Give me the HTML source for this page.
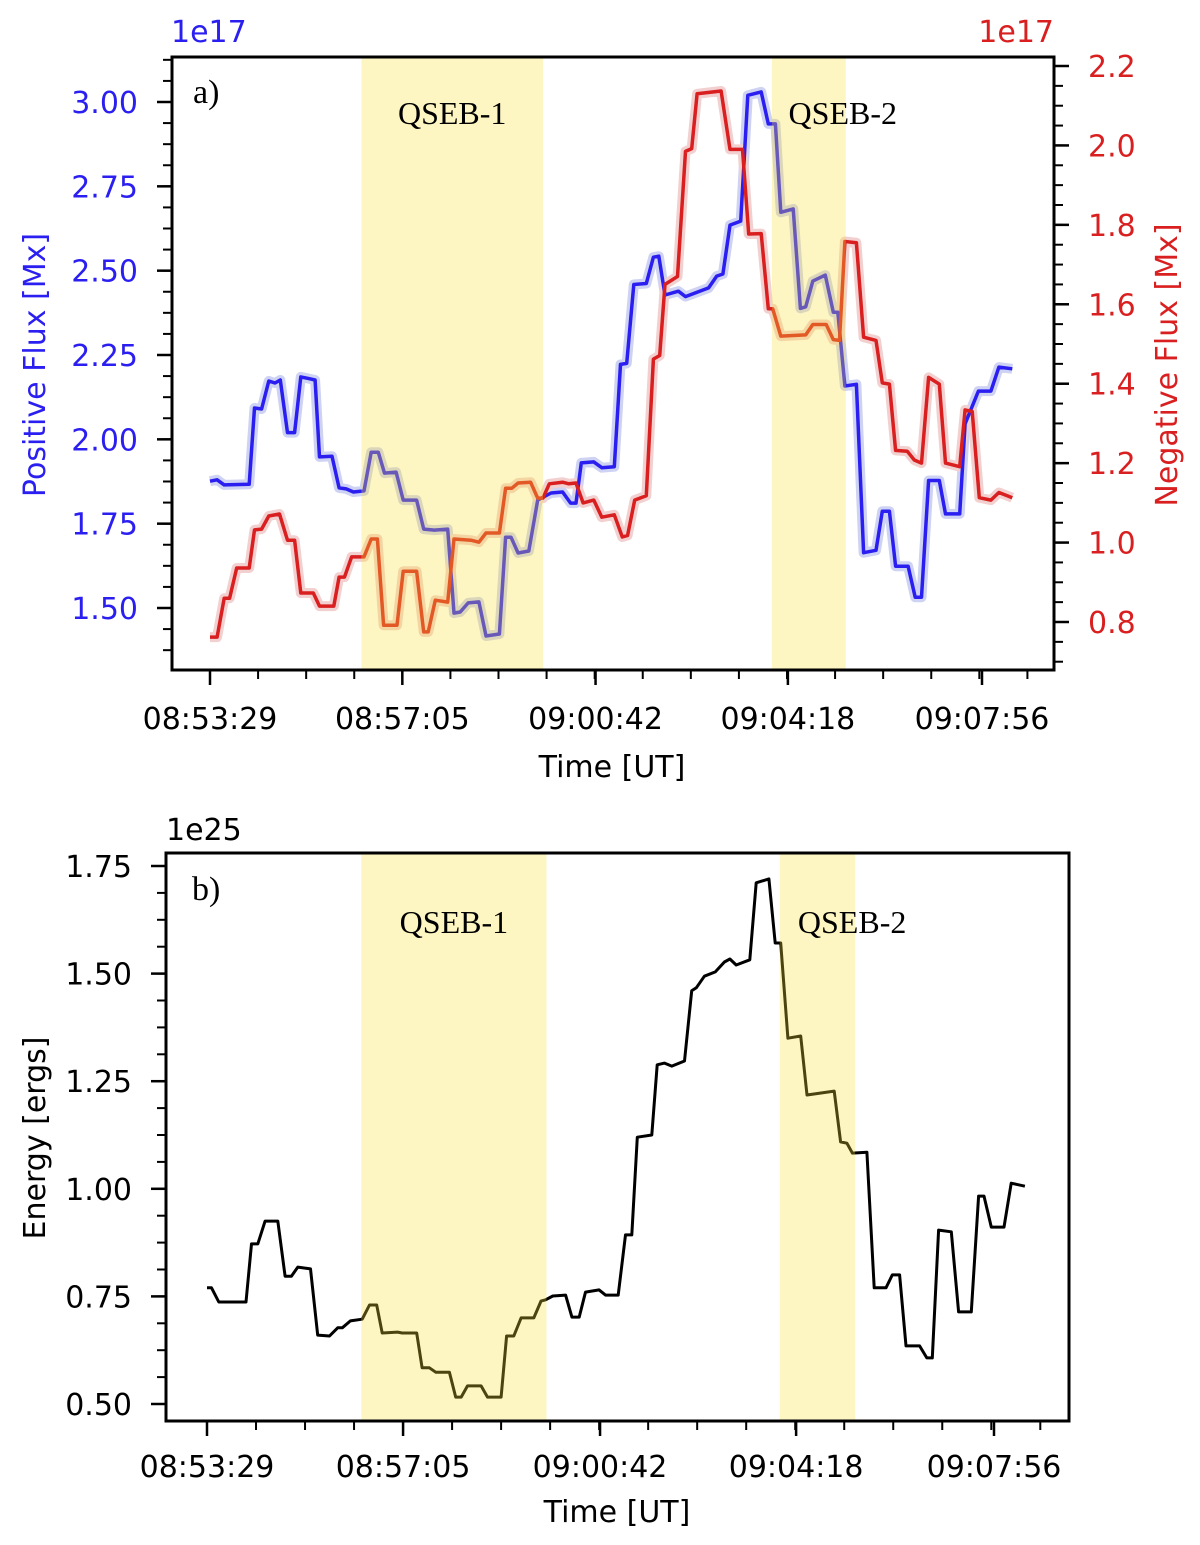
<!DOCTYPE html>
<html><head><meta charset="utf-8"><style>
html,body{margin:0;padding:0;background:#fff;}
svg{display:block;font-family:"DejaVu Sans","Liberation Sans",sans-serif;}
.serif{font-family:"Liberation Serif",serif;}
</style></head><body>
<svg id="fig" width="1200" height="1545" viewBox="0 0 1200 1545" xmlns="http://www.w3.org/2000/svg"></svg>
<script>
// ---- data (time in seconds from 08:53:29) ----
const posT=[0,8,16,44,50,58,66,73,79,87,95,102,111,118,123,137,145,153,161,173,181,189,196,209,217,232,240,252,267,274,281,290,302,310,325,332,338,346,358,368,383,396,405,411,417,431,440,454,461,468,476,490,498,504,511,526,534,560,569,576,584,596,604,619,627,635,641,655,663,669,677,691,700,705,713,726,734,748,755,763,770,784,792,799,807,819,826,842,848,863,877,886,901];
const posV=[1.876,1.88,1.865,1.867,2.093,2.09,2.173,2.167,2.176,2.02,2.02,2.185,2.18,2.176,1.948,1.95,1.856,1.853,1.844,1.847,1.962,1.962,1.90,1.903,1.82,1.82,1.734,1.731,1.734,1.485,1.488,1.515,1.518,1.417,1.423,1.71,1.71,1.663,1.669,1.82,1.841,1.844,1.811,1.811,1.93,1.933,1.916,1.919,2.222,2.225,2.459,2.462,2.54,2.543,2.428,2.439,2.423,2.449,2.484,2.49,2.635,2.647,3.02,3.03,2.935,2.935,2.673,2.683,2.388,2.393,2.469,2.487,2.377,2.377,2.158,2.163,1.664,1.671,1.787,1.787,1.624,1.624,1.532,1.532,1.878,1.878,1.779,1.779,2.046,2.143,2.143,2.214,2.209];
const negT=[0,8,16,22,30,44,50,58,66,78,87,95,102,116,123,139,145,151,159,173,181,188,195,210,217,232,240,245,253,267,274,293,302,310,325,332,339,346,360,368,374,381,396,403,411,419,431,440,454,463,469,477,490,498,505,511,525,534,541,547,574,584,598,605,619,627,632,641,669,677,692,700,707,713,726,734,748,755,763,770,783,791,799,807,819,826,842,848,856,864,877,886,901];
const negV=[0.762,0.762,0.860,0.860,0.936,0.936,1.032,1.034,1.067,1.072,1.006,1.006,0.873,0.873,0.840,0.840,0.913,0.913,0.964,0.964,1.009,1.009,0.792,0.792,0.928,0.928,0.775,0.775,0.855,0.850,1.009,1.006,1.001,1.024,1.024,1.137,1.137,1.150,1.152,1.112,1.112,1.148,1.152,1.148,1.150,1.100,1.107,1.064,1.070,1.014,1.018,1.107,1.118,1.462,1.471,1.650,1.670,1.985,1.992,2.130,2.137,1.990,1.990,1.777,1.778,1.589,1.589,1.520,1.523,1.549,1.549,1.511,1.509,1.758,1.755,1.517,1.509,1.402,1.399,1.232,1.230,1.208,1.200,1.416,1.399,1.200,1.191,1.334,1.330,1.113,1.107,1.126,1.113];
const enT=[0,5,13,23,43,49,56,64,78,86,93,100,114,122,135,144,149,158,171,179,187,193,210,215,231,237,245,252,267,274,280,287,302,309,324,330,338,346,360,368,373,381,395,402,410,417,432,439,453,461,468,474,490,496,504,512,526,534,539,548,560,570,576,583,598,605,619,626,632,640,654,661,691,698,705,711,727,735,748,755,763,770,785,793,799,806,820,828,842,850,856,864,878,886,901];
const enV=[0.770,0.770,0.737,0.737,0.737,0.872,0.872,0.925,0.925,0.797,0.797,0.818,0.814,0.660,0.658,0.677,0.677,0.693,0.697,0.730,0.730,0.665,0.667,0.665,0.665,0.584,0.584,0.574,0.574,0.516,0.516,0.542,0.542,0.516,0.516,0.658,0.658,0.700,0.700,0.739,0.742,0.751,0.753,0.702,0.702,0.760,0.765,0.753,0.753,0.893,0.893,1.120,1.125,1.288,1.292,1.285,1.297,1.460,1.467,1.494,1.504,1.527,1.534,1.520,1.532,1.711,1.720,1.571,1.571,1.350,1.355,1.218,1.227,1.109,1.106,1.083,1.085,0.770,0.770,0.800,0.800,0.635,0.635,0.607,0.607,0.904,0.900,0.714,0.714,0.983,0.983,0.911,0.911,1.013,1.006];
const tickSec=[0,216,433,649,867];
const tickLabels=["08:53:29","08:57:05","09:00:42","09:04:18","09:07:56"];
const posTicks=[1.50,1.75,2.00,2.25,2.50,2.75,3.00];
const negTicks=[0.8,1.0,1.2,1.4,1.6,1.8,2.0,2.2];
const enTicks=[0.50,0.75,1.00,1.25,1.50,1.75];
const spanStart=[170,631];
const spanEnd=[374,714];
const spanLabels=["QSEB-1","QSEB-2"];

const NS="http://www.w3.org/2000/svg";
const svg=document.getElementById('fig');
function mk(tag,attrs,parent,text){const e=document.createElementNS(NS,tag);for(const k in attrs)e.setAttribute(k,attrs[k]);if(text!==undefined)e.textContent=text;(parent||svg).appendChild(e);return e;}
function lin(d0,d1,r0,r1){return v=>r0+(v-d0)*(r1-r0)/(d1-d0);}
function pathD(T,V,sx,sy){return T.map((t,i)=>(i?'L':'M')+sx(t).toFixed(1)+','+sy(V[i]).toFixed(1)).join(' ');}

function xAxis(g,sx,yb,x0,x1,labelY,titleX,titleY){
  for(let i=0;i<tickSec.length;i++){
    const x=sx(tickSec[i]);
    const t=mk('line',{x1:x,x2:x,y1:yb,y2:yb+15,stroke:'#000','stroke-width':2.5},g);
    
    const l=mk('text',{x:x,y:labelY,'font-size':30,'text-anchor':'middle'},g,tickLabels[i]);
    
  }
  const step=(tickSec[1]-tickSec[0])/4;
  for(let s=tickSec[0]+step;sx(s)<x1;s+=step){
    const x=sx(s);
    const m=mk('line',{x1:x,x2:x,y1:yb,y2:yb+9,stroke:'#000','stroke-width':2},g);
    
  }
  const tt=mk('text',{x:titleX,y:titleY,'font-size':30,'text-anchor':'middle'},g,'Time [UT]');
  
}
function yAxis(g,sy,ticks,xAx,dir,fmt,color,top,bot,minorDiv){
  for(const v of ticks){
    const y=sy(v);
    const t=mk('line',{x1:xAx,x2:xAx+dir*15,y1:y,y2:y,stroke:'#000','stroke-width':2.5},g);
    
    const l=mk('text',{x:xAx+dir*34,y:y+11,'font-size':30,'text-anchor':dir<0?'end':'start',fill:color},g,v.toFixed(fmt));
    
  }
  const st=(ticks[1]-ticks[0])/minorDiv;
  for(let v=ticks[0]-5*st;v<ticks[ticks.length-1]+5*st;v+=st){
    const y=sy(v);if(y<top+2||y>bot-2)continue;
    const m=mk('line',{x1:xAx,x2:xAx+dir*9,y1:y,y2:y,stroke:'#000','stroke-width':2},g);
    
  }
}
function spans(g,sx,top,bot){
  for(let i=0;i<spanStart.length;i++){
    const r=mk('rect',{x:sx(spanStart[i]),y:top,width:sx(spanEnd[i])-sx(spanStart[i]),height:bot-top,fill:'#f8e137','fill-opacity':0.3},g);
    
  }
}
function spanLabelsDraw(g,sx,labY){
  for(let i=0;i<spanStart.length;i++){
    const cx=i===0?(sx(spanStart[i])+sx(spanEnd[i]))/2:sx(spanEnd[i])-3;
    const t=mk('text',{x:cx,y:labY,'font-size':32,'text-anchor':'middle',class:'serif'},g,spanLabels[i]);
    
  }
}

// ---- panel a ----
(function(){
  const L=172,R=1054,T=57,B=670;
  const sx=lin(0,867,210,982);
  const syP=lin(1.50,3.00,608,102);
  const syN=lin(0.8,2.2,622,66);
  const g=mk('g',{});
  
  const hb=mk('path',{d:pathD(posT,posV,sx,syP),fill:'none',stroke:'#ced2f3','stroke-width':10,'stroke-linejoin':'round'},g);
  
  const hr=mk('path',{d:pathD(negT,negV,sx,syN),fill:'none',stroke:'#f2d0d0','stroke-width':10,'stroke-linejoin':'round'},g);
  
  const pb=mk('path',{d:pathD(posT,posV,sx,syP),fill:'none',stroke:'#2a1ff0','stroke-width':3.5,'stroke-linejoin':'round'},g);
  
  const pr=mk('path',{d:pathD(negT,negV,sx,syN),fill:'none',stroke:'#d91f1f','stroke-width':3.5,'stroke-linejoin':'round'},g);
  
  spans(g,sx,T,B);
  spanLabelsDraw(g,sx,124);
  const fr=mk('rect',{x:L,y:T,width:R-L,height:B-T,fill:'none',stroke:'#000','stroke-width':3},g);
  
  xAxis(g,sx,B,L,R,729,612,777);
  yAxis(g,syP,posTicks,L,-1,2,'#2a1ff0',T,B,4);
  yAxis(g,syN,negTicks,R,1,1,'#d91f1f',T,B,4);
  const pl=mk('text',{x:0,y:0,'font-size':30,'text-anchor':'middle',fill:'#2a1ff0',transform:'translate(45,365) rotate(-90)'},g,'Positive Flux [Mx]');
  
  const nl=mk('text',{x:0,y:0,'font-size':30,'text-anchor':'middle',fill:'#d91f1f',transform:'translate(1177,365) rotate(-90)'},g,'Negative Flux [Mx]');
  
  const o1=mk('text',{x:171,y:42,'font-size':30,fill:'#2a1ff0'},g,'1e17');
  
  const o2=mk('text',{x:1054,y:42,'font-size':30,fill:'#d91f1f','text-anchor':'end'},g,'1e17');
  
  const pa=mk('text',{x:193,y:103,'font-size':34,class:'serif'},g,'a)');
  
})();

// ---- panel b ----
(function(){
  const L=166,R=1069,T=853,B=1421;
  const sx=lin(0,867,207,994);
  const sy=lin(0.50,1.75,1404,866);
  const g=mk('g',{});
  
  const p=mk('path',{d:pathD(enT,enV,sx,sy),fill:'none',stroke:'#000','stroke-width':3,'stroke-linejoin':'round'},g);
  
  spans(g,sx,T,B);
  spanLabelsDraw(g,sx,933);
  const fr=mk('rect',{x:L,y:T,width:R-L,height:B-T,fill:'none',stroke:'#000','stroke-width':3},g);
  
  xAxis(g,sx,B,L,R,1477,617,1522);
  yAxis(g,sy,enTicks,L,-1,2,'#000',T,B,4);
  const el=mk('text',{x:0,y:0,'font-size':30,'text-anchor':'middle',transform:'translate(45,1138) rotate(-90)'},g,'Energy [ergs]');
  
  const o=mk('text',{x:166,y:840,'font-size':30},g,'1e25');
  
  const pb=mk('text',{x:192,y:900,'font-size':34,class:'serif'},g,'b)');
  
})();
</script>
</body></html>
